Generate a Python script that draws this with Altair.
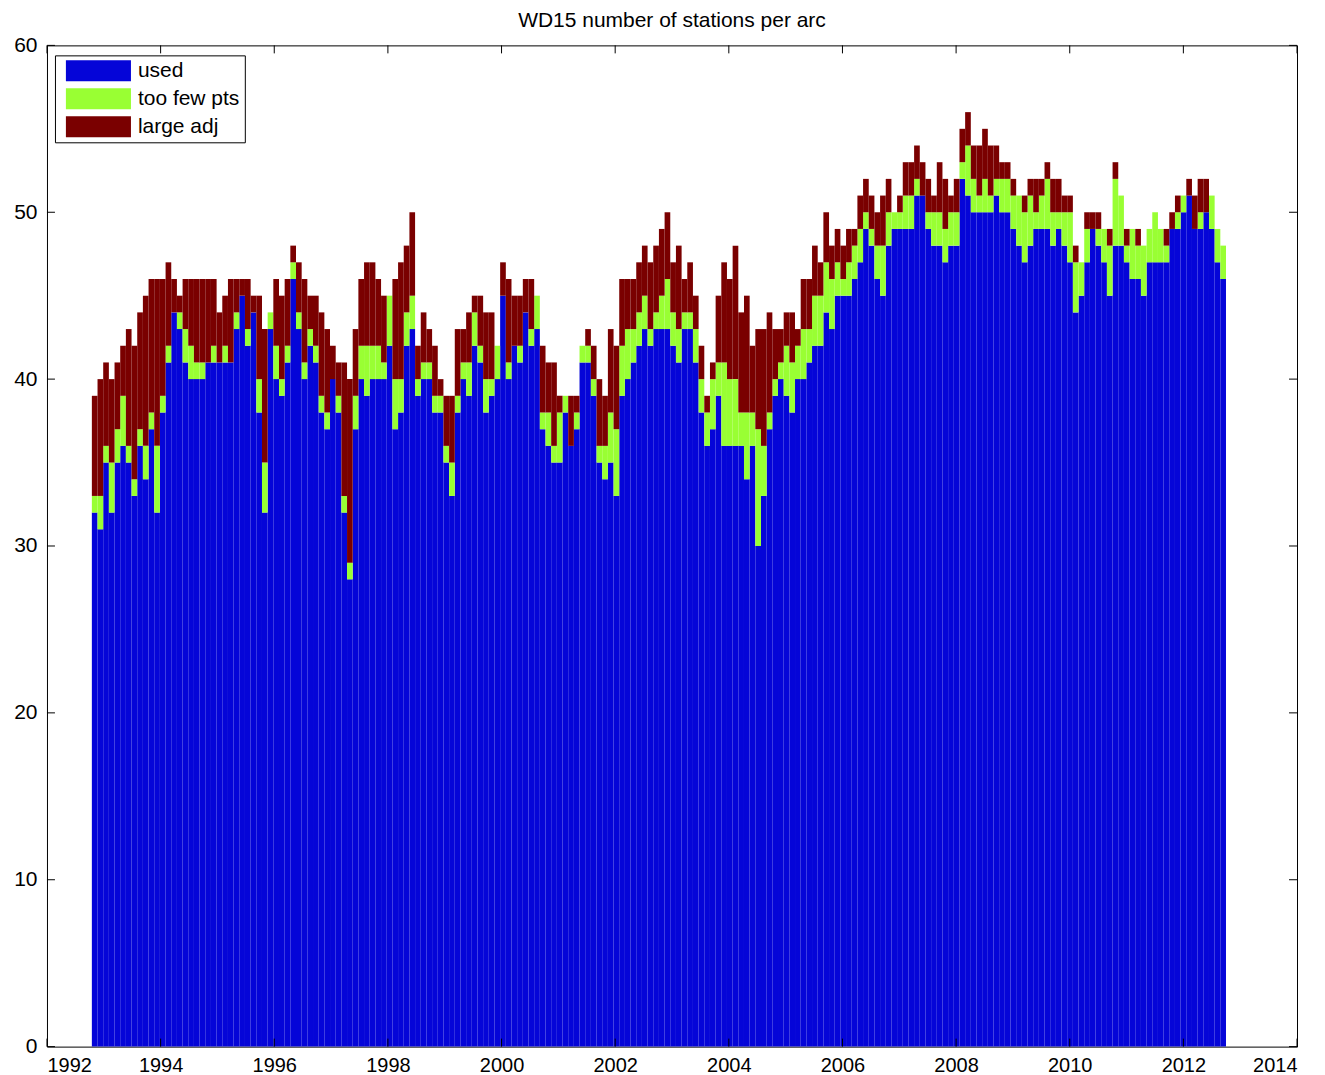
import altair as alt
import pandas as pd

# ---- data (one bin ~ 0.1 year) ----
used = [32, 31, 35, 32, 35, 36, 35, 33, 36, 34, 37, 32, 38, 41, 44, 43, 41, 40, 40, 40,
        41, 41, 41, 41, 41, 43, 45, 42, 44, 38, 32, 43, 40, 39, 41, 46, 43, 40, 42, 41,
        38, 37, 40, 38, 32, 28, 37, 40, 39, 40, 40, 40, 42, 37, 38, 42, 43, 39, 40, 40,
        38, 38, 35, 33, 38, 40, 39, 42, 41, 38, 39, 40, 45, 40, 42, 41, 44, 42, 43, 37,
        36, 35, 35, 38, 36, 37, 41, 41, 39, 35, 34, 35, 33, 39, 40, 41, 42, 43, 42, 43,
        43, 43, 42, 41, 43, 43, 41, 38, 36, 37, 39, 36, 36, 36, 36, 34, 36, 30, 33, 37,
        39, 40, 39, 38, 40, 40, 41, 42, 42, 44, 43, 45, 45, 45, 46, 47, 49, 48, 46, 45,
        48, 49, 49, 49, 49, 51, 51, 49, 48, 48, 47, 48, 48, 52, 51, 50, 50, 50, 50, 51,
        50, 50, 49, 48, 47, 48, 49, 49, 49, 48, 49, 48, 47, 44, 45, 47, 49, 48, 47, 45,
        48, 48, 47, 46, 46, 45, 47, 47, 47, 47, 49, 49, 50, 51, 49, 49, 50, 49, 47, 46]
too_few = [1, 2, 1, 3, 2, 3, 1, 1, 1, 2, 1, 4, 1, 1, 0, 1, 2, 2, 1, 1,
           0, 1, 0, 1, 0, 1, 0, 1, 0, 2, 3, 1, 2, 1, 1, 1, 1, 1, 1, 1,
           1, 1, 0, 1, 1, 1, 2, 2, 3, 2, 2, 1, 3, 3, 2, 2, 2, 1, 1, 1,
           1, 1, 1, 2, 1, 1, 2, 2, 1, 2, 1, 2, 0, 1, 0, 1, 0, 1, 2, 1,
           2, 1, 3, 1, 0, 1, 1, 1, 1, 1, 2, 3, 4, 3, 3, 2, 2, 2, 1, 1,
           2, 3, 2, 2, 1, 1, 2, 2, 2, 3, 2, 5, 4, 4, 2, 4, 2, 7, 3, 1,
           1, 1, 3, 3, 2, 3, 2, 3, 3, 3, 3, 2, 1, 2, 2, 2, 1, 1, 2, 3,
           2, 1, 1, 2, 2, 1, 0, 1, 2, 2, 2, 2, 2, 1, 3, 2, 1, 2, 1, 1,
           2, 2, 2, 3, 3, 3, 1, 2, 3, 2, 1, 2, 3, 3, 2, 2, 0, 1, 2, 3,
           4, 3, 1, 3, 2, 3, 2, 3, 2, 1, 0, 1, 1, 0, 0, 1, 0, 2, 2, 2]
large_adj = [6, 7, 5, 5, 4, 3, 7, 8, 7, 9, 8, 10, 7, 5, 2, 1, 3, 4, 5, 5,
             5, 4, 3, 3, 5, 2, 1, 3, 1, 5, 8, 0, 4, 5, 4, 1, 3, 5, 2, 3,
             5, 5, 2, 2, 8, 11, 4, 4, 5, 5, 4, 4, 0, 6, 7, 4, 5, 2, 3, 2,
             3, 1, 3, 4, 4, 2, 3, 1, 3, 4, 4, 0, 2, 5, 3, 3, 2, 3, 0, 4,
             3, 5, 1, 0, 3, 1, 0, 1, 2, 4, 3, 5, 5, 4, 3, 3, 3, 3, 4, 4,
             4, 4, 3, 5, 2, 3, 2, 2, 1, 1, 4, 6, 6, 8, 6, 7, 4, 6, 7, 6,
             3, 2, 2, 3, 1, 3, 3, 3, 2, 3, 2, 2, 2, 2, 1, 2, 2, 2, 2, 3,
             2, 0, 1, 2, 2, 2, 2, 2, 1, 3, 3, 1, 2, 2, 2, 2, 3, 3, 3, 2,
             1, 1, 1, 0, 1, 1, 2, 1, 1, 2, 2, 1, 1, 1, 0, 1, 1, 1, 0, 1,
             1, 0, 1, 0, 1, 0, 0, 0, 0, 1, 1, 1, 0, 1, 2, 2, 2, 0, 0, 0]

start_year = 1992.79
bin_width = 0.0998
x_ticks = list(range(1992, 2015, 2))
y_ticks = list(range(0, 61, 10))
categories = ["used", "too few pts", "large adj"]
colors = ["#0505d8", "#99ff33", "#7a0000"]

W, H = 1251, 1002
FONT = "Liberation Sans"

rows = []
for i, vals in enumerate(zip(used, too_few, large_adj)):
    x0 = start_year + i * bin_width
    base = 0
    for k, (cat, v) in enumerate(zip(categories, vals)):
        if v > 0:
            rows.append({"x0": x0, "x1": x0 + bin_width, "cat": cat,
                         "y0": base, "y1": base + v, "k": k})
        base += v
df = pd.DataFrame(rows)

xscale = alt.Scale(domain=[1992, 2014], nice=False, zero=False)
yscale = alt.Scale(domain=[0, 60], nice=False)

bars = alt.Chart(df).mark_bar(strokeWidth=0).encode(
    x=alt.X("x0:Q", scale=xscale,
            axis=alt.Axis(values=x_ticks, format="d", tickSize=0, domain=False,
                          grid=False, title=None, labelFontSize=20,
                          labelFont=FONT, labelColor="black", labelPadding=9)),
    x2="x1:Q",
    y=alt.Y("y0:Q", scale=yscale,
            axis=alt.Axis(values=y_ticks, tickSize=0, domain=False, grid=False,
                          title=None, labelFontSize=21, labelFont=FONT,
                          labelColor="black", labelPadding=10)),
    y2="y1:Q",
    color=alt.Color("cat:N", scale=alt.Scale(domain=categories, range=colors),
                    legend=alt.Legend(orient="none", legendX=8, legendY=10,
                                      title=None,
                                      symbolType="M-3.1,-1H3.1V1H-3.1Z",
                                      symbolSize=441, symbolStrokeWidth=0,
                                      symbolOpacity=1, symbolOffset=28,
                                      labelFontSize=21, labelFont=FONT,
                                      labelColor="black", labelOffset=29,
                                      rowPadding=6, padding=5,
                                      strokeColor="black", fillColor="white")),
    order="k:Q",
)

xt_df = pd.DataFrame({"t": x_ticks})
yt_df = pd.DataFrame({"t": y_ticks})
xb = alt.Chart(xt_df).mark_rule(color="black", strokeWidth=1).encode(
    x=alt.X("t:Q", scale=xscale), y=alt.value(H), y2=alt.value(H - 8))
xtop = alt.Chart(xt_df).mark_rule(color="black", strokeWidth=1).encode(
    x=alt.X("t:Q", scale=xscale), y=alt.value(0), y2=alt.value(8))
yl = alt.Chart(yt_df).mark_rule(color="black", strokeWidth=1).encode(
    y=alt.Y("t:Q", scale=yscale), x=alt.value(0), x2=alt.value(8))
yr = alt.Chart(yt_df).mark_rule(color="black", strokeWidth=1).encode(
    y=alt.Y("t:Q", scale=yscale), x=alt.value(W), x2=alt.value(W - 8))

chart = alt.layer(bars, xb, xtop, yl, yr).properties(
    width=W, height=H,
    title=alt.TitleParams("WD15 number of stations per arc", fontSize=21,
                          fontWeight="normal", font=FONT, color="black",
                          anchor="middle", offset=3),
    autosize=alt.AutoSizeParams(type="none"),
    padding={"left": 39, "top": 37, "right": 20, "bottom": 28},
).configure_view(stroke="black", strokeWidth=1)

chart.save("out.html", embed_options={"renderer": "svg", "actions": False})
